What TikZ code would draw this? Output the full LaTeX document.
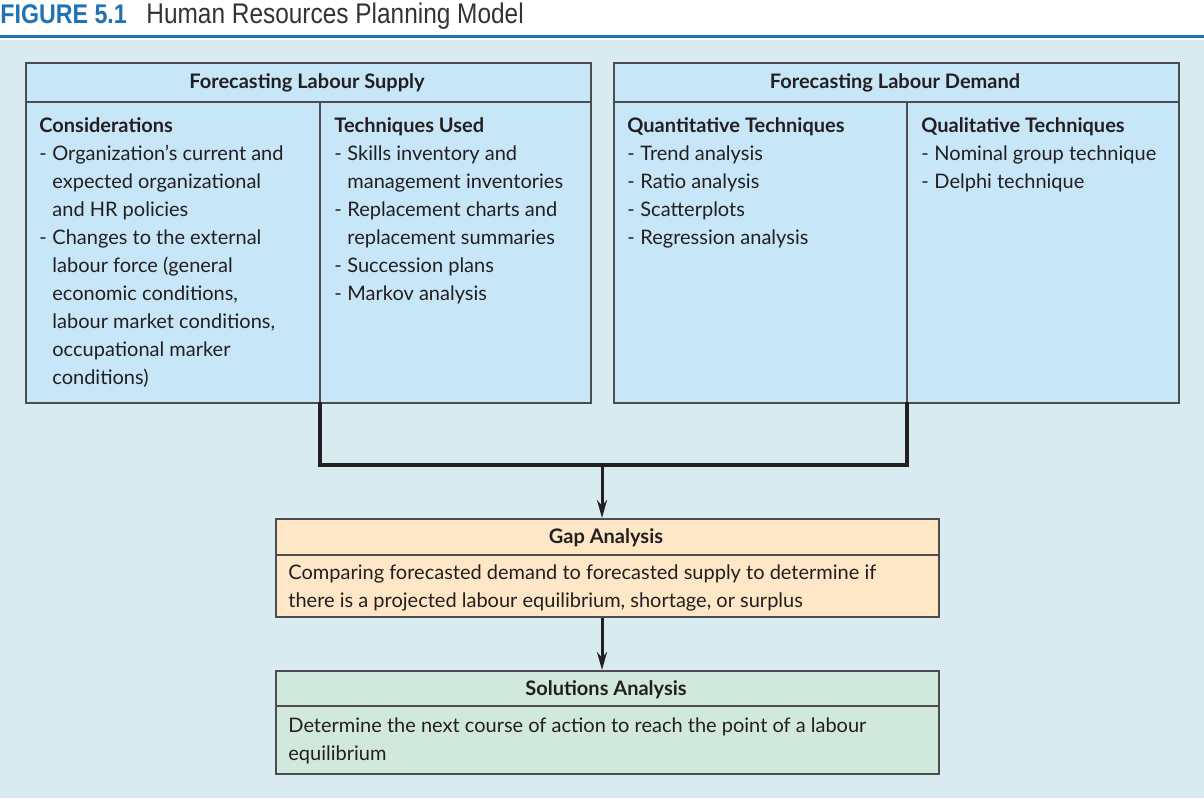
\documentclass[tikz,border=0pt]{standalone}
\usepackage{fontspec}
\setmainfont{Lato}
\newfontfamily\figfont[FakeStretch=0.86]{Liberation Sans}
\usetikzlibrary{positioning,arrows.meta}
\definecolor{FigBlue}{HTML}{2072B4}
\definecolor{PanelBG}{HTML}{D7EBF0}
\definecolor{BoxBlue}{HTML}{C7E6F8}
\definecolor{BoxPeach}{HTML}{FDE7C6}
\definecolor{BoxGreen}{HTML}{D1E9DC}
\definecolor{EdgeGray}{HTML}{4D4D4D}
\definecolor{InkDark}{HTML}{231F20}
\newcommand{\dsh}{\makebox[6.5pt][l]{-}}
\newcommand{\ind}{\hspace*{6.5pt}}

\tikzset{
  box/.style={draw=EdgeGray, line width=.8pt, anchor=north west, inner sep=0pt},
  rowline/.style={draw=EdgeGray, line width=.8pt},
  head/.style={font=\fontsize{10}{14}\selectfont\bfseries, text=InkDark, inner sep=0pt},
  body/.style={font=\fontsize{10}{14}\selectfont, text=InkDark, align=left,
    anchor=north west, inner sep=0pt},
  link/.style={draw=InkDark, line width=2pt},
  flow/.style={draw=InkDark, line width=1.5pt, -{Stealth[length=9pt,width=5pt]}},
}

\begin{document}
\begin{tikzpicture}[x=0.5pt,y=-0.5pt]
  \useasboundingbox (0,0) rectangle (1204,806);

  % title and panel
  \fill[PanelBG] (0,40) rectangle (1204,798);
  \draw[FigBlue, line width=1.5pt] (0,37) -- (1204,37);
  \node[anchor=base west, inner sep=0pt, text=FigBlue, font=\figfont\fontsize{13.5}{13.5}\selectfont\bfseries]
    (figno) at (0,24) {FIGURE 5.1};
  \node[anchor=base west, inner sep=0pt, text=black!80, font=\figfont\fontsize{14.2}{14.2}\selectfont]
    (figtitle) at (146,24) {Human Resources Planning Model};

  % supply box
  \node[box, fill=BoxBlue, minimum width=282.5pt, minimum height=170pt] (supply) at (25,62) {};
  \draw[rowline] (25,102) -- (590,102);
  \draw[rowline] (320,102) -- (320,402);
  \node[head] (supplyhead) at (307,83) {Forecasting Labour Supply};
  \node[body] (consider) at (39,117) {\textbf{Considerations}\\
    \dsh Organization’s current and\\
    \ind expected organizational\\
    \ind and HR policies\\
    \dsh Changes to the external\\
    \ind labour force (general\\
    \ind economic conditions,\\
    \ind labour market conditions,\\
    \ind occupational marker\\
    \ind conditions)};
  \node[body] (supplytech) at (334,117) {\textbf{Techniques Used}\\
    \dsh Skills inventory and\\
    \ind management inventories\\
    \dsh Replacement charts and\\
    \ind replacement summaries\\
    \dsh Succession plans\\
    \dsh Markov analysis};

  % demand box
  \node[box, fill=BoxBlue, minimum width=282.5pt, minimum height=170pt] (demand) at (613,62) {};
  \draw[rowline] (613,102) -- (1178,102);
  \draw[rowline] (907,102) -- (907,402);
  \node[head] (demandhead) at (895,83) {Forecasting Labour Demand};
  \node[body] (quant) at (627,117) {\textbf{Quantitative Techniques}\\
    \dsh Trend analysis\\
    \dsh Ratio analysis\\
    \dsh Scatterplots\\
    \dsh Regression analysis};
  \node[body] (qual) at (921,117) {\textbf{Qualitative Techniques}\\
    \dsh Nominal group technique\\
    \dsh Delphi technique};

  % gap analysis
  \node[box, fill=BoxPeach, minimum width=331.5pt, minimum height=49pt] (gap) at (275,518) {};
  \draw[rowline] (275,555) -- (938,555);
  \node[head] (gaphead) at (606,538) {Gap Analysis};
  \node[body] (gaptext) at (288,564) {Comparing forecasted demand to forecasted supply to determine if\\
    there is a projected labour equilibrium, shortage, or surplus};

  % solutions analysis
  \node[box, fill=BoxGreen, minimum width=331.5pt, minimum height=51.5pt] (solve) at (275,670) {};
  \draw[rowline] (275,706) -- (938,706);
  \node[head] (solvehead) at (606,690) {Solutions Analysis};
  \node[body] (solvetext) at (288,717) {Determine the next course of action to reach the point of a labour\\
    equilibrium};

  % connectors
  \coordinate (supplycut) at (320,402);
  \coordinate (demandcut) at (907,402);
  \coordinate (join) at (602,465);
  \draw[link] (supplycut) |- (join) -| (demandcut);
  \draw[flow] (join) -- (join |- gap.north);
  \draw[flow] (join |- gap.south) -- (join |- solve.north);
\end{tikzpicture}
\end{document}
